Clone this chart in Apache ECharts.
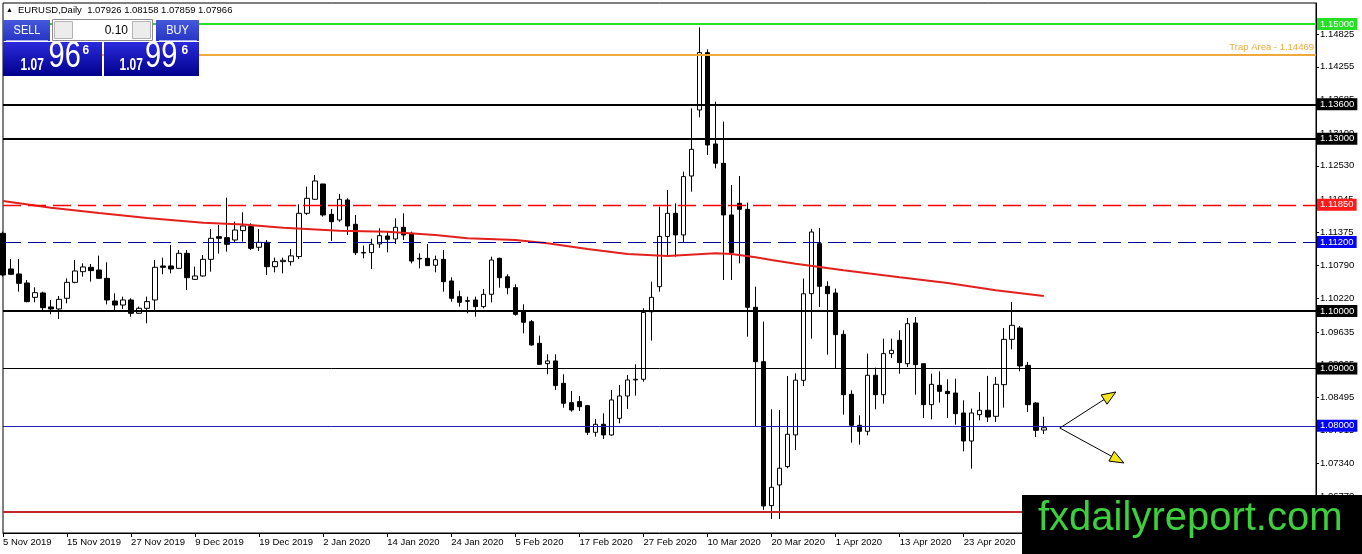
<!DOCTYPE html>
<html><head><meta charset="utf-8">
<script src="https://cdn.jsdelivr.net/npm/echarts@6/dist/echarts.min.js"></script>
<style>html,body{margin:0;padding:0;background:#fff}#c{width:1362px;height:554px}</style>
</head><body><div id="c"></div>
<script>
// ---- categories (trading days) ----
const monthDays = [
  ['Nov 2019', [5,6,7,8,11,12,13,14,15,18,19,20,21,22,25,26,27,28,29]],
  ['Dec 2019', [2,3,4,5,6,9,10,11,12,13,16,17,18,19,20,23,24,26,27,30,31]],
  ['Jan 2020', [2,3,6,7,8,9,10,13,14,15,16,17,20,21,22,23,24,27,28,29,30,31]],
  ['Feb 2020', [3,4,5,6,7,10,11,12,13,14,17,18,19,20,21,24,25,26,27,28]],
  ['Mar 2020', [2,3,4,5,6,9,10,11,12,13,16,17,18,19,20,23,24,25,26,27,30,31]],
  ['Apr 2020', [1,2,3,6,7,8,9,10,13,14,15,16,17,20,21,22,23,24,27,28,29,30]],
  ['May 2020', [1,4,5,6,7]]
];
const emptySlots = 34; // empty bars to the right of the last candle

// ---- OHLC ----
const openP = [1.11353,1.10732,1.10645,1.10488,1.10238,1.10314,1.10070,1.10035,1.10221,1.10499,
1.10685,1.10761,1.10714,1.10569,1.10174,1.10104,1.10192,1.09960,1.10047,1.10192,
1.10784,1.10784,1.10743,1.11005,1.10551,1.10610,1.10900,1.11295,1.11278,1.11237,
1.11400,1.11470,1.11110,1.11196,1.10772,1.10860,1.10860,1.10947,1.11702,1.11946,
1.12213,1.11684,1.11585,1.11934,1.11510,1.11017,1.11017,1.11168,1.11307,1.11255,
1.11458,1.11353,1.10917,1.10917,1.10796,1.10900,1.10523,1.10250,1.10180,1.10192,
1.10076,1.10291,1.10918,1.10597,1.10407,1.09988,1.09814,1.09437,1.09083,1.09130,
1.08740,1.08403,1.08421,1.08351,1.07886,1.08026,1.07840,1.08130,1.08519,1.08798,
1.08810,1.09987,1.10424,1.11299,1.11702,1.11325,1.12352,1.13502,1.14501,1.12910,
1.12573,1.11673,1.11876,1.11771,1.10064,1.09117,1.06609,1.06969,1.07289,1.07841,
1.08792,1.10302,1.11173,1.10430,1.10314,1.09593,1.08548,1.08008,1.07904,1.08880,
1.08542,1.09257,1.09489,1.09082,1.09791,1.09082,1.08368,1.08705,1.08600,1.08571,
1.08223,1.07735,1.08194,1.08270,1.08165,1.08716,1.09506,1.09704,1.09053,1.08397,
1.07926];
const highP = [1.11382,1.10906,1.10906,1.10540,1.10412,1.10337,1.10192,1.10261,1.10569,1.10889,
1.10830,1.10819,1.10964,1.10848,1.10308,1.10250,1.10221,1.10076,1.10250,1.10889,
1.10929,1.11150,1.11063,1.11063,1.10772,1.10975,1.11429,1.11498,1.11975,1.11557,
1.11719,1.11527,1.11429,1.11237,1.10930,1.10930,1.11080,1.11858,1.12166,1.12370,
1.12213,1.11777,1.12040,1.11963,1.11673,1.11140,1.11260,1.11440,1.11382,1.11614,
1.11702,1.11382,1.11005,1.11167,1.10964,1.11063,1.10587,1.10354,1.10250,1.10250,
1.10383,1.10946,1.10929,1.10639,1.10465,1.10116,1.09843,1.09570,1.09245,1.09245,
1.08897,1.08606,1.08520,1.08362,1.08118,1.08217,1.08624,1.08711,1.08885,1.09071,
1.10047,1.10511,1.11818,1.12108,1.11876,1.12428,1.13530,1.14942,1.14559,1.13647,
1.13299,1.12195,1.12352,1.11888,1.10424,1.09815,1.08287,1.08276,1.08868,1.08914,
1.10566,1.11430,1.11446,1.10517,1.10390,1.09663,1.08618,1.08182,1.09257,1.09013,
1.09518,1.09518,1.09663,1.09878,1.09896,1.09082,1.08908,1.08949,1.08810,1.08821,
1.08444,1.08298,1.08589,1.08868,1.08850,1.09704,1.10157,1.09739,1.09112,1.08415,
1.08158];
const lowP = [1.10600,1.10627,1.10337,1.10151,1.10151,1.10000,1.09942,1.09861,1.10134,1.10482,
1.10598,1.10511,1.10557,1.10116,1.09988,1.10035,1.09901,1.09948,1.09785,1.09988,
1.10639,1.10656,1.10732,1.10366,1.10540,1.10598,1.10685,1.10999,1.11034,1.11197,
1.11208,1.11063,1.11045,1.10627,1.10674,1.10656,1.10790,1.10906,1.11673,1.11934,
1.11644,1.11220,1.11556,1.11324,1.10976,1.10918,1.10730,1.11100,1.11022,1.11168,
1.11237,1.10830,1.10743,1.10784,1.10674,1.10337,1.10163,1.10076,1.09960,1.09901,
1.10047,1.10151,1.10406,1.10291,1.09919,1.09611,1.09396,1.09059,1.08897,1.08624,
1.08316,1.08246,1.08258,1.07840,1.07811,1.07770,1.07828,1.08043,1.08293,1.08525,
1.08769,1.09484,1.10337,1.10947,1.10947,1.11191,1.12079,1.13374,1.12718,1.12486,
1.10540,1.10540,1.10830,1.09553,1.07997,1.06534,1.06376,1.06376,1.07260,1.07578,
1.08694,1.09518,1.10070,1.09239,1.09007,1.08194,1.07706,1.07671,1.07834,1.08287,
1.08386,1.09181,1.08908,1.09024,1.08542,1.08136,1.08113,1.08403,1.08136,1.08020,
1.07555,1.07253,1.08095,1.08066,1.08066,1.08316,1.09332,1.08949,1.08240,1.07805,
1.07859];
const closeP = [1.10627,1.10639,1.10482,1.10163,1.10319,1.10058,1.10035,1.10203,1.10499,1.10697,
1.10767,1.10703,1.10569,1.10192,1.10104,1.10192,1.09960,1.10047,1.10163,1.10761,
1.10761,1.10732,1.11005,1.10580,1.10610,1.10900,1.11266,1.11266,1.11162,1.11411,
1.11481,1.11092,1.11196,1.10772,1.10860,1.10883,1.10960,1.11702,1.11963,1.12265,
1.11673,1.11556,1.11946,1.11481,1.11016,1.11011,1.11162,1.11313,1.11249,1.11458,
1.11324,1.10871,1.10906,1.10790,1.10894,1.10511,1.10221,1.10151,1.10170,1.10076,
1.10290,1.10888,1.10580,1.10406,1.09942,1.09803,1.09408,1.09070,1.09130,1.08700,
1.08392,1.08275,1.08333,1.07886,1.08026,1.07840,1.08450,1.08519,1.08798,1.08810,
1.09975,1.10238,1.11299,1.11702,1.11325,1.12341,1.12817,1.14501,1.12892,1.12573,
1.11673,1.11017,1.11771,1.10064,1.09117,1.06603,1.06928,1.07260,1.07852,1.08795,
1.10300,1.11376,1.10430,1.10302,1.09588,1.08542,1.08008,1.07904,1.08880,1.08542,
1.09257,1.09315,1.09100,1.09779,1.09065,1.08368,1.08722,1.08600,1.08560,1.08211,
1.07735,1.08223,1.08270,1.08153,1.08722,1.09506,1.09750,1.09042,1.08368,1.07921,
1.07966];

// ---- moving average (read at sample bars) ----
const maIdx = [0,6,12,18,25,30,35,42,48,54,58,64,68,73,78,83,89,91,94,96,99,105,112,118,124,130];
const maVal = [1.11916,1.11800,1.11707,1.11620,1.11536,1.11507,1.11451,1.11397,1.11380,1.11324,1.11268,1.11237,1.11180,1.11080,1.10993,1.10958,1.11005,1.10993,1.10935,1.10888,1.10824,1.10709,1.10589,1.10488,1.10361,1.10261];

// ---- horizontal levels ----
const levelPrices = [1.15000, 1.14469, 1.13600, 1.13000, 1.11850, 1.11200, 1.10000, 1.09000, 1.08000, 1.06500];
const trapText = 'Trap Area - ';

// ---- y-axis tick labels ----
const yTicks = [1.14825,1.14255,1.13685,1.13100,1.12530,1.11945,1.11375,1.10790,1.10220,1.09635,1.09065,1.08495,1.07915,1.07340,1.06770];
const yMin = 1.06132, yMax = 1.15366;

// ---- arrows [fromIdx, fromPrice] -> [toIdx, toPrice] ----
const arrowFrom = [[132, 1.07961], [132, 1.07961]];
const arrowTo = [[139, 1.08589], [140, 1.07352]];

// ---- trade panel ----
const symbolName = 'EURUSD,Daily';
const lotSize = '0.10';
const askPrice = 1.07996;

// ================= build =================
const FF = "'Liberation Sans', Arial, sans-serif";
const categories = [];
monthDays.forEach(([m, days]) => days.forEach(d => categories.push(d + ' ' + m)));
for (let k = 0; k < emptySlots; k++) categories.push('');

const candleData = openP.map((o, i) => [o, closeP[i], lowP[i], highP[i]]);
const maData = openP.map(() => null);
maIdx.forEach((ix, k) => { maData[ix] = maVal[k]; });

const levelStyles = [
  {color:'#25e025', width:2, type:'solid', bg:'#25e025'},
  {color:'#f2a93b', width:2, type:'solid', trap:true},
  {color:'#000', width:2, type:'solid', bg:'#000'},
  {color:'#000', width:2, type:'solid', bg:'#000'},
  {color:'#ff0000', width:1.3, type:[18,7], bg:'#ff1a1a'},
  {color:'#0000a0', width:1.2, type:[18,7], bg:'#0000ff'},
  {color:'#000', width:2, type:'solid', bg:'#000'},
  {color:'#000', width:1, type:'solid', bg:'#000'},
  {color:'#2020b8', width:1, type:'solid', bg:'#0000ff'},
  {color:'#c4262b', width:2, type:'solid', bg:'#c4262b'}
];
const markLineData = levelPrices.map((p, i) => {
  const s = levelStyles[i];
  const label = s.trap
    ? {show:true, position:'insideEndTop', formatter: trapText + p.toFixed(5), color:'#f2a93b', fontSize:9.5, fontFamily:FF, distance:2}
    : {show:true, position:'end', formatter: p.toFixed(5), color:'#fff', backgroundColor:s.bg, padding:[1,3,0,3], lineHeight:11, fontSize:9.5, fontFamily:FF, distance:1};
  return {yAxis:p, lineStyle:{color:s.color, width:s.width, type:s.type}, label};
});

const arrowData = arrowFrom.map((f, i) => [f[0], f[1], arrowTo[i][0], arrowTo[i][1]]);

const last = openP.length - 1;
const fmt = v => v.toFixed(5);
const headerText = symbolName + '  ' + [openP[last], highP[last], lowP[last], closeP[last]].map(fmt).join(' ');
function splitPrice(v) { const s = v.toFixed(5); return [s.slice(0,4), s.slice(4,6), s.slice(6)]; }
const bidParts = splitPrice(closeP[last]);
const askParts = splitPrice(askPrice);

const boxGrad = {type:'linear',x:0,y:0,x2:0,y2:1,colorStops:[{offset:0,color:'#2b2bdc'},{offset:1,color:'#00008c'}]};
const btnGrad = {type:'linear',x:0,y:0,x2:0,y2:1,colorStops:[{offset:0,color:'#4658dc'},{offset:1,color:'#2535c4'}]};
function txt(x, y, text, size, opts) {
  opts = opts || {};
  return {type:'text', x, y, scaleX: opts.sx || 1, scaleY: opts.sy || 1, z:50,
    style:{x:0, y:0, text, fontSize:size, fontFamily:FF, fontWeight: opts.bold ? 'bold' : 'normal',
      fill: opts.fill || '#fff', align: opts.align || 'left', verticalAlign:'middle'}};
}
const graphics = [
  txt(6, 10, '▲', 7, {fill:'#000'}),
  txt(18, 10.5, headerText, 9.5, {fill:'#000'}),
  {type:'rect', z:50, shape:{x:3,y:20,width:47,height:21}, style:{fill:btnGrad}},
  txt(27, 30.5, 'SELL', 11, {align:'center', sy:1.2}),
  {type:'rect', z:50, shape:{x:52.5,y:19.5,width:100,height:21}, style:{fill:'#fff', stroke:'#8c8c8c', lineWidth:1}},
  {type:'rect', z:51, shape:{x:54.5,y:21.5,width:18,height:17}, style:{fill:'#ececec', stroke:'#b4b4b4', lineWidth:1}},
  {type:'rect', z:51, shape:{x:132.5,y:21.5,width:18,height:17}, style:{fill:'#ececec', stroke:'#b4b4b4', lineWidth:1}},
  txt(63.5, 30, '▾', 9, {fill:'#222', align:'center'}),
  txt(141.5, 30, '▴', 9, {fill:'#222', align:'center'}),
  txt(128, 30.5, lotSize, 12, {fill:'#000', align:'right'}),
  {type:'rect', z:50, shape:{x:156,y:20,width:43,height:21}, style:{fill:btnGrad}},
  txt(177.5, 30.5, 'BUY', 11, {align:'center', sy:1.2}),
  {type:'line', z:51, shape:{x1:6,y1:40.5,x2:48,y2:40.5}, style:{stroke:'#a8b0f0', lineWidth:1}},
  {type:'line', z:51, shape:{x1:159,y1:40.5,x2:197,y2:40.5}, style:{stroke:'#a8b0f0', lineWidth:1}},
  {type:'rect', z:50, shape:{x:3,y:42,width:99,height:34}, style:{fill:boxGrad}},
  {type:'rect', z:50, shape:{x:104,y:42,width:95,height:34}, style:{fill:boxGrad}},
  txt(20.5, 66, bidParts[0], 12, {bold:true, sy:1.3}),
  txt(48.5, 56.5, bidParts[1], 29, {sy:1.28}),
  txt(82.5, 51, bidParts[2], 12, {bold:true}),
  txt(119.5, 66, askParts[0], 12, {bold:true, sy:1.3}),
  txt(145, 56.5, askParts[1], 29, {sy:1.28}),
  txt(181.5, 51, askParts[2], 12, {bold:true}),
  {type:'rect', z:100, shape:{x:1022,y:495,width:340,height:59}, style:{fill:'#000'}},
  {type:'text', z:101, x:1038, y:519, style:{x:0,y:0,text:'fxdailyreport.com', fontSize:40, fontFamily:FF, fill:'#3cd03c', align:'left', verticalAlign:'middle'}}
];

const chart = echarts.init(document.getElementById('c'), null, {renderer:'canvas'});
chart.setOption({
  animation:false,
  backgroundColor:'#fff',
  grid:{left:3, right:46, top:3, bottom:21, show:true, borderColor:'#000', borderWidth:1, backgroundColor:'transparent'},
  xAxis:{
    type:'category', data:categories, boundaryGap:false,
    axisLine:{lineStyle:{color:'#000', width:1}},
    axisTick:{show:true, interval:7, length:4, lineStyle:{color:'#000'}},
    axisLabel:{interval:7, align:'left', margin:4, fontSize:9.5, fontFamily:FF, color:'#000', showMaxLabel:false},
    splitLine:{show:false}
  },
  yAxis:{
    type:'value', position:'right', min:yMin, max:yMax, scale:true,
    axisLine:{show:true, lineStyle:{color:'#000', width:1}},
    axisTick:{show:true, length:3, lineStyle:{color:'#000'}, customValues:yTicks},
    axisLabel:{customValues:yTicks, formatter:v => v.toFixed(5), margin:4, fontSize:9.5, fontFamily:FF, color:'#000'},
    splitLine:{show:false}
  },
  graphic:{elements:graphics},
  series:[
    {
      type:'candlestick', data:candleData, barWidth:5, clip:true, silent:true, z:2,
      itemStyle:{color:'#fff', color0:'#000', borderColor:'#000', borderColor0:'#000', borderWidth:1}
    },
    {
      type:'line', data:maData, connectNulls:true, showSymbol:false, silent:true, z:3, clip:true,
      lineStyle:{color:'#e3201c', width:2},
      markLine:{silent:true, precision:5, symbol:['none','none'], animation:false, data:markLineData, emphasis:{disabled:true}}
    },
    {
      type:'custom', data:arrowData, encode:{x:[0,2], y:[1,3]}, z:5, silent:true, clip:false,
      renderItem:(params, api) => {
        const p0 = api.coord([api.value(0), api.value(1)]);
        const p1 = api.coord([api.value(2), api.value(3)]);
        const dx = p1[0]-p0[0], dy = p1[1]-p0[1], len = Math.hypot(dx, dy);
        const ux = dx/len, uy = dy/len, hl = 14, hw = 5.5;
        const bx = p1[0]-ux*hl, by = p1[1]-uy*hl;
        return {type:'group', children:[
          {type:'line', shape:{x1:p0[0], y1:p0[1], x2:bx, y2:by}, style:{stroke:'#000', lineWidth:1}},
          {type:'polygon', shape:{points:[[p1[0],p1[1]],[bx-uy*hw, by+ux*hw],[bx+uy*hw, by-ux*hw]]}, style:{fill:'#f3e41c', stroke:'#000', lineWidth:1}}
        ]};
      }
    }
  ]
});
</script>
</body></html>
